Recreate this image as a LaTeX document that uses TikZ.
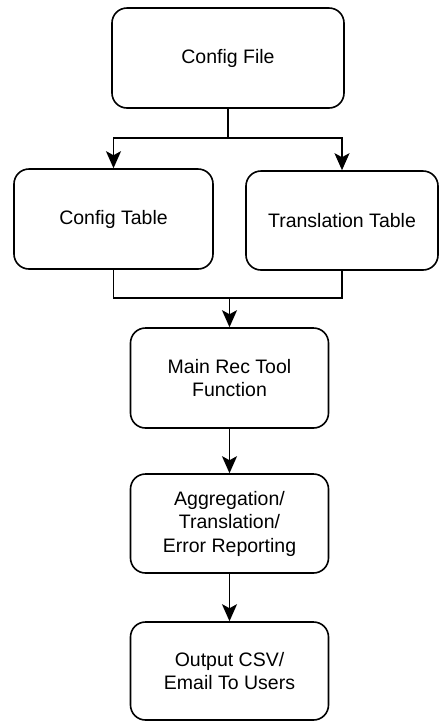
\documentclass[tikz,border=0pt]{standalone}
\usepackage{fontspec}
\setmainfont{Liberation Sans}
\usetikzlibrary{arrows.meta,positioning}

\begin{document}
\begin{tikzpicture}[x=1pt, y=-1pt,
  box/.style={draw=black, line width=1.6pt, rounded corners=15pt, align=center,
    font=\fontsize{19.5}{23.5}\selectfont, inner sep=0pt},
  link/.style={line width=1.6pt, -{Stealth[length=17pt, width=15pt, inset=4pt]}},
  plain/.style={line width=1.6pt}]
  % Frame of the picture
  \useasboundingbox (0,0) rectangle (439,721);

  % Boxes
  \node[box, minimum width=232pt, minimum height=100pt] (cfgfile) at (228,58) {Config File};
  \node[box, minimum width=199pt, minimum height=100pt] (cfgtab) at (113.5,219) {Config Table};
  \node[box, minimum width=192pt, minimum height=99pt] (trtab) at (342,220.5) {Translation Table};
  \node[box, minimum width=198pt, minimum height=100pt] (mainrec) at (229.5,378) {Main Rec Tool\\Function};
  \node[box, minimum width=198pt, minimum height=99pt] (aggr) at (229.5,523.5) {Aggregation/\\Translation/\\Error Reporting};
  \node[box, minimum width=198pt, minimum height=98pt] (output) at (229.5,671) {Output CSV/\\Email To Users};

  % Split and join points
  \coordinate (split) at (228,138);
  \coordinate (join) at (229.5,298);

  % Config file to both tables
  \draw[plain] (cfgfile.south) -- (split);
  \draw[link] (split) -| (cfgtab.north);
  \draw[link] (split) -| (trtab.north);

  % Both tables into main function
  \draw[plain] (cfgtab.south) |- (join) -| (trtab.south);
  \draw[link] (join) -- (mainrec.north);

  % Rest of the chain
  \draw[link] (mainrec) -- (aggr);
  \draw[link] (aggr) -- (output);
\end{tikzpicture}
\end{document}
